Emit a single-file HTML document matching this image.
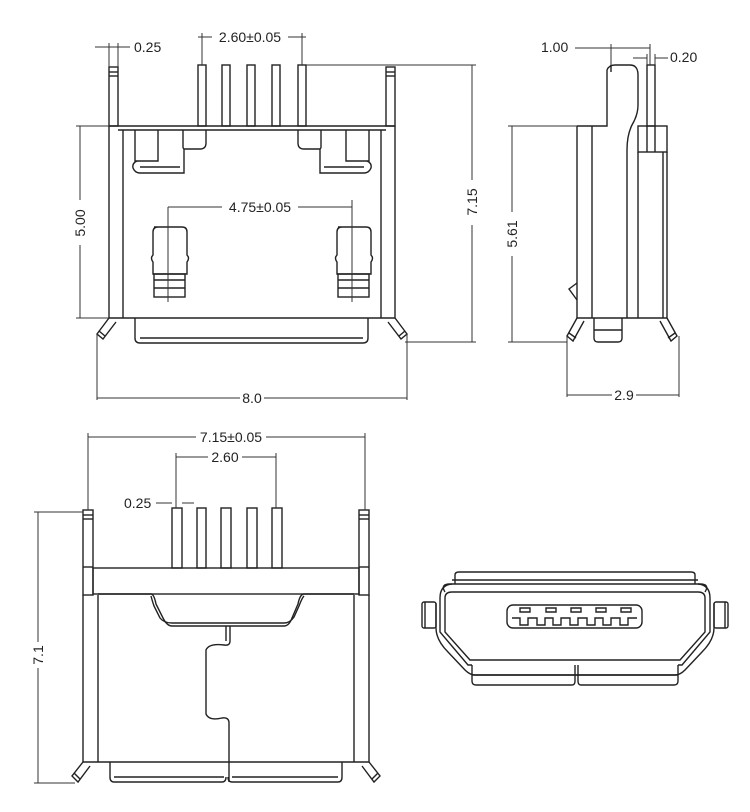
<!DOCTYPE html>
<html><head><meta charset="utf-8"><style>
html,body{margin:0;padding:0;background:#fff}
svg{display:block}
text{font-family:"Liberation Sans",sans-serif;font-size:14px;fill:#222}
</style></head><body>
<svg width="750" height="812" viewBox="0 0 750 812" xmlns="http://www.w3.org/2000/svg">
<g fill="none" stroke="#222" stroke-width="1.4">
<!-- ===== TOP LEFT VIEW ===== -->
<rect x="109" y="67" width="9" height="59"/><line x1="109" y1="72" x2="118" y2="72"/><line x1="109" y1="76" x2="118" y2="76"/>
<rect x="386" y="67" width="9" height="59"/><line x1="386" y1="72" x2="395" y2="72"/><line x1="386" y1="76" x2="395" y2="76"/>
<rect x="198" y="65" width="8" height="61"/><rect x="222" y="65" width="8" height="61"/><rect x="247" y="65" width="8" height="61"/><rect x="272" y="65" width="8" height="61"/><rect x="298" y="65" width="8" height="61"/>
<line x1="109" y1="126" x2="395" y2="126"/>
<line x1="109" y1="126" x2="109" y2="318"/><line x1="123" y1="130" x2="123" y2="318"/>
<line x1="381" y1="130" x2="381" y2="318"/><line x1="395" y1="126" x2="395" y2="318"/>
<line x1="109" y1="318" x2="395" y2="318"/>
<line x1="118" y1="130" x2="386" y2="130"/>
<path d="M135 130 V161 H158 V130"/>
<path d="M183 130 V147 Q183 149 185 149 H200 Q206 149 206 143 V130"/>
<path d="M137 161 Q132 163 133 168 Q135 173 140 173 H184 V149"/>
<path d="M140 167 H180"/>
<path d="M369 130 V161 H346 V130"/>
<path d="M321 130 V147 Q321 149 319 149 H304 Q298 149 298 143 V130"/>
<path d="M367 161 Q372 163 371 168 Q369 173 364 173 H320 V149"/>
<path d="M324 167 H364"/>
<path d="M154 227 H182 Q187 227 187 232 V255 Q190 258 187 262 V274 H153 V262 Q150 258 153 255 V232 Q153 227 158 227 Z"/>
<rect x="154" y="274" width="31" height="23"/><line x1="154" y1="280" x2="185" y2="280"/><line x1="154" y1="288" x2="185" y2="288"/>
<path d="M338 227 H366 Q371 227 371 232 V255 Q374 258 371 262 V274 H337 V262 Q334 258 337 255 V232 Q337 227 342 227 Z"/>
<rect x="338" y="274" width="31" height="23"/><line x1="338" y1="280" x2="369" y2="280"/><line x1="338" y1="288" x2="369" y2="288"/>
<path d="M135 318 V338 Q135 343 140 343 H363 Q368 343 368 338 V318"/><line x1="140" y1="338" x2="363" y2="338"/>
<path d="M109 318 L97 334 L103 339 L116 322"/><line x1="99" y1="331" x2="105" y2="336"/>
<path d="M395 318 L407 334 L401 339 L388 322"/><line x1="405" y1="331" x2="399" y2="336"/>
</g>
<g fill="none" stroke="#333" stroke-width="1">
<line x1="95" y1="47" x2="118" y2="47"/><line x1="118" y1="47" x2="130" y2="47"/><line x1="109" y1="43" x2="109" y2="67"/><line x1="118" y1="43" x2="118" y2="67"/>
<line x1="198" y1="37" x2="212" y2="37"/><line x1="288" y1="37" x2="306" y2="37"/><line x1="202" y1="33" x2="202" y2="65"/><line x1="302" y1="33" x2="302" y2="65"/>
<line x1="306" y1="65" x2="476" y2="65"/><line x1="405" y1="342" x2="476" y2="342"/><line x1="472" y1="65" x2="472" y2="180"/><line x1="472" y1="225" x2="472" y2="342"/>
<line x1="76" y1="126" x2="109" y2="126"/><line x1="76" y1="318" x2="109" y2="318"/><line x1="80" y1="126" x2="80" y2="200"/><line x1="80" y1="245" x2="80" y2="318"/>
<line x1="97" y1="334" x2="97" y2="400"/><line x1="407" y1="334" x2="407" y2="400"/><line x1="97" y1="398" x2="240" y2="398"/><line x1="264" y1="398" x2="407" y2="398"/>
<line x1="168" y1="207" x2="222" y2="207"/><line x1="298" y1="207" x2="352" y2="207"/><line x1="168" y1="207" x2="168" y2="302"/><line x1="352" y1="200" x2="352" y2="302"/>
</g>
<g fill="none" stroke="#222" stroke-width="1.4">
<!-- ===== TOP RIGHT VIEW ===== -->
<path d="M577 126 H607 V70 Q609 65 615 65 H630 Q638 65 638 75 V105 Q638 115 632 125 Q627 135 627 150"/>
<line x1="611" y1="65" x2="611" y2="72"/>
<rect x="647" y="65" width="8" height="61"/>
<rect x="638" y="126" width="29" height="26"/><line x1="647" y1="126" x2="647" y2="152"/><line x1="655" y1="126" x2="655" y2="152"/>
<line x1="577" y1="126" x2="577" y2="318"/><line x1="592" y1="126" x2="592" y2="318"/>
<line x1="627" y1="150" x2="627" y2="318"/><line x1="638" y1="152" x2="638" y2="318"/>
<line x1="663" y1="152" x2="663" y2="318"/><line x1="667" y1="152" x2="667" y2="318"/>
<line x1="577" y1="318" x2="667" y2="318"/>
<path d="M577 283 L569 289 L577 300"/>
<path d="M594 318 V338 Q594 342 598 342 H618 Q622 342 622 338 V318"/><line x1="594" y1="330" x2="622" y2="330"/>
<path d="M577 318 L567 336 L573 341 L584 321"/><line x1="569" y1="333" x2="576" y2="338"/>
<path d="M667 318 L677 336 L671 341 L660 321"/><line x1="675" y1="333" x2="668" y2="338"/>
</g>
<g fill="none" stroke="#333" stroke-width="1">
<line x1="575" y1="48" x2="650" y2="48"/><line x1="611" y1="44" x2="611" y2="65"/><line x1="650" y1="44" x2="650" y2="65"/>
<line x1="633" y1="58" x2="647" y2="58"/><line x1="655" y1="58" x2="668" y2="58"/><line x1="647" y1="54" x2="647" y2="65"/><line x1="655" y1="54" x2="655" y2="65"/>
<line x1="508" y1="126" x2="577" y2="126"/><line x1="508" y1="342" x2="567" y2="342"/><line x1="512" y1="126" x2="512" y2="212"/><line x1="512" y1="256" x2="512" y2="342"/>
<line x1="567" y1="336" x2="567" y2="397"/><line x1="679" y1="336" x2="679" y2="397"/><line x1="567" y1="395" x2="612" y2="395"/><line x1="636" y1="395" x2="679" y2="395"/>
</g>
<g fill="none" stroke="#222" stroke-width="1.4">
<!-- ===== BOTTOM LEFT VIEW ===== -->
<rect x="83" y="510" width="10" height="85"/><line x1="83" y1="515" x2="93" y2="515"/><line x1="83" y1="519" x2="93" y2="519"/><line x1="83" y1="567" x2="93" y2="567"/>
<rect x="359" y="510" width="10" height="85"/><line x1="359" y1="515" x2="369" y2="515"/><line x1="359" y1="519" x2="369" y2="519"/><line x1="359" y1="567" x2="369" y2="567"/>
<rect x="172" y="508" width="10" height="60"/><rect x="197" y="508" width="9" height="60"/><rect x="221" y="508" width="10" height="60"/><rect x="247" y="508" width="10" height="60"/><rect x="272" y="508" width="10" height="60"/>
<rect x="93" y="568" width="266" height="26"/>
<line x1="83" y1="595" x2="83" y2="762"/><line x1="98" y1="595" x2="98" y2="762"/>
<line x1="354" y1="595" x2="354" y2="762"/><line x1="369" y1="595" x2="369" y2="762"/>
<path d="M98 594 H151 Q154 594 156 604 L163 618 Q167 626 172 626 H284 Q289 626 292 618 L298 604 Q300 594 304 594 H354"/>
<path d="M151 596 Q152 600 154 606 L160 618 Q164 623 172 623 H284 Q290 623 294 617 L299 606 Q302 598 304 596"/>
<path d="M230 626 V641 Q230 646 224 645 Q209 643 206 650 V714 Q209 721 222 718 Q229 717 229 723 V782"/>
<path d="M226 626 V641"/>
<line x1="83" y1="762" x2="369" y2="762"/>
<path d="M110 762 V777 Q110 782 114 782 H222 Q226 782 226 777"/><line x1="114" y1="777" x2="224" y2="777"/>
<path d="M342 762 V777 Q342 782 338 782 H232 Q228 782 228 777"/><line x1="232" y1="777" x2="338" y2="777"/>
<path d="M83 762 L72 776 L78 782 L90 766"/><line x1="74" y1="773" x2="80" y2="779"/>
<path d="M369 762 L380 776 L374 782 L362 766"/><line x1="378" y1="773" x2="372" y2="779"/>
</g>
<g fill="none" stroke="#333" stroke-width="1">
<line x1="88" y1="437" x2="196" y2="437"/><line x1="266" y1="437" x2="365" y2="437"/><line x1="88" y1="433" x2="88" y2="510"/><line x1="365" y1="433" x2="365" y2="510"/>
<line x1="176" y1="457" x2="208" y2="457"/><line x1="242" y1="457" x2="276" y2="457"/><line x1="176" y1="453" x2="176" y2="508"/><line x1="276" y1="453" x2="276" y2="508"/>
<line x1="156" y1="503" x2="172" y2="503"/><line x1="182" y1="503" x2="194" y2="503"/>
<line x1="34" y1="512" x2="83" y2="512"/><line x1="34" y1="783" x2="75" y2="783"/><line x1="38" y1="512" x2="38" y2="642"/><line x1="38" y1="668" x2="38" y2="783"/>
</g>
<g fill="none" stroke="#222" stroke-width="1.4">
<!-- ===== BOTTOM RIGHT VIEW ===== -->
<path d="M455 584 V575 Q455 572 459 572 H691 Q695 572 695 575 V584"/>
<line x1="452" y1="580" x2="698" y2="580"/>
<path d="M445 592 Q440 584 450 584 H700 Q710 584 705 592"/>
<path d="M440 598 Q440 585 452 584"/><path d="M710 598 Q710 585 698 584"/>
<path d="M440 598 V632 L468 665 L472 665 M710 598 V632 L682 665 L678 665"/>
<path d="M445 598 Q445 592 452 592 H698 Q705 592 705 598 V632 L680 660 H470 L445 632 Z"/>
<path d="M436 603 V628 Q436 640 448 652 L465 670 Q470 675 475 675 H675 Q680 675 685 670 L702 652 Q714 640 714 628 V603"/>
<rect x="422" y="602" width="14" height="26" rx="2"/><line x1="425" y1="602" x2="425" y2="628"/>
<rect x="714" y="602" width="14" height="26" rx="2"/><line x1="725" y1="602" x2="725" y2="628"/>
<path d="M472 665 V681 Q472 685 476 685 H572 Q575 685 575 681 V665"/>
<path d="M678 665 V681 Q678 685 674 685 H581 Q578 685 578 681 V665"/>
<line x1="472" y1="675" x2="678" y2="675"/>
<rect x="507" y="605" width="135" height="23" rx="6"/>
<path d="M512 618 H520 V625 H528 V618 H537 V625 H545 V618 H553 V625 H561 V618 H570 V625 H578 V618 H587 V625 H595 V618 H603 V625 H611 V618 H620 V625 H628 V618 H637"/>
<path d="M520 608 H530 V612 H520 Z M546 608 H556 V612 H546 Z M571 608 H581 V612 H571 Z M596 608 H606 V612 H596 Z M621 608 H631 V612 H621 Z"/>
</g>
<text x="134" y="52">0.25</text>
<text x="250" y="42" text-anchor="middle">2.60±0.05</text>
<text x="260" y="212" text-anchor="middle">4.75±0.05</text>
<text x="252" y="403" text-anchor="middle">8.0</text>
<text transform="translate(85,223) rotate(-90)" text-anchor="middle">5.00</text>
<text transform="translate(477,202) rotate(-90)" text-anchor="middle">7.15</text>
<text x="541" y="52">1.00</text>
<text x="670" y="62">0.20</text>
<text transform="translate(517,234) rotate(-90)" text-anchor="middle">5.61</text>
<text x="624" y="400" text-anchor="middle">2.9</text>
<text x="231" y="442" text-anchor="middle">7.15±0.05</text>
<text x="225" y="462" text-anchor="middle">2.60</text>
<text x="124" y="508">0.25</text>
<text transform="translate(43,655) rotate(-90)" text-anchor="middle">7.1</text>
</svg>
</body></html>
